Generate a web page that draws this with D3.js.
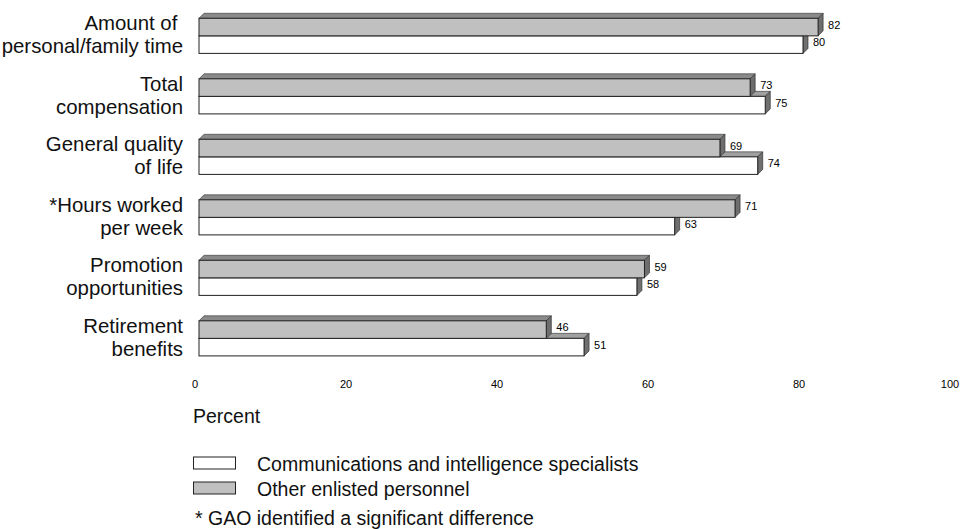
<!DOCTYPE html>
<html>
<head>
<meta charset="utf-8">
<script src="https://cdn.jsdelivr.net/npm/d3@7"></script>
<style>
  html, body { margin: 0; padding: 0; background: #fff; }
  svg { display: block; font-family: "Liberation Sans", Arial, Helvetica, sans-serif; }
</style>
</head>
<body>
<svg id="chart" width="963" height="529"></svg>
<script>
const categories = [
  ["Amount of\u00A0", "personal/family time"],
  ["Total", "compensation"],
  ["General quality", "of life"],
  ["*Hours worked", "per week"],
  ["Promotion", "opportunities"],
  ["Retirement", "benefits"]
];
const otherEnlisted = [82, 73, 69, 71, 59, 46];
const commIntel = [80, 75, 74, 63, 58, 51];
const tickValues = [0, 20, 40, 60, 80, 100];
const seriesNames = ["Communications and intelligence specialists", "Other enlisted personnel"];
const axisTitle = "Percent";
const footnote = "* GAO identified a significant difference";

const svg = d3.select("#chart");
const catKeys = categories.map((c, i) => i);

const x = d3.scaleLinear().domain([0, 100]).range([199, 954]);
const y = d3.scaleBand().domain(catKeys).range([5.6, 368.6]).paddingInner(0.42).paddingOuter(0.21);
const ySub = d3.scaleBand().domain(["other", "comm"]).range([0, y.bandwidth()]);

const depth = 5;
const styles = {
  other: { front: "#c0c0c0", top: "#8a8a8a", side: "#6e6e6e" },
  comm:  { front: "#ffffff", top: "#a0a0a0", side: "#707070" }
};

function drawBar(g, key, v, i) {
  const s = styles[key];
  const x0 = x(0), x1 = x(v);
  const t = y(i) + ySub(key), b = t + ySub.bandwidth();
  const grp = g.append("g");
  grp.append("path")
    .attr("d", `M${x0},${t} L${x0 + depth},${t - depth} L${x1 + depth},${t - depth} L${x1},${t} Z`)
    .attr("fill", s.top).attr("stroke", "#444").attr("stroke-width", 0.7).attr("stroke-linejoin", "round");
  grp.append("path")
    .attr("d", `M${x1},${t} L${x1 + depth},${t - depth} L${x1 + depth},${b - depth} L${x1},${b} Z`)
    .attr("fill", s.side).attr("stroke", "#333").attr("stroke-width", 0.7).attr("stroke-linejoin", "round");
  grp.append("rect")
    .attr("x", x0).attr("y", t).attr("width", x1 - x0).attr("height", b - t)
    .attr("fill", s.front).attr("stroke", "#222").attr("stroke-width", 1);
  g.append("text")
    .attr("x", x1 + 10).attr("y", (t + b) / 2 + 1.5)
    .attr("font-size", 11).attr("fill", "#000")
    .text(v);
}

const barsG = svg.append("g");
catKeys.forEach(i => {
  drawBar(barsG, "comm", commIntel[i], i);
  drawBar(barsG, "other", otherEnlisted[i], i);
});

const labG = svg.append("g");
catKeys.forEach(i => {
  const mid = y(i) + y.bandwidth() / 2;
  const t = labG.append("text").attr("text-anchor", "end").attr("font-size", 20.4).attr("fill", "#111")
    .style("white-space", "pre");
  t.append("tspan").attr("x", 183).attr("y", mid - 5.5).text(categories[i][0]);
  t.append("tspan").attr("x", 183).attr("y", mid + 17.5).text(categories[i][1]);
});

const axisG = svg.append("g").attr("transform", "translate(-4.5,388)");
axisG.call(d3.axisBottom(x).tickValues(tickValues).tickSize(0).tickPadding(0).tickFormat(d3.format("d")));
axisG.select(".domain").remove();
axisG.selectAll("text").attr("font-size", 11).attr("fill", "#000")
  .attr("dy", 0).attr("y", 0)
  .style("font-family", '"Liberation Sans", Arial, sans-serif');

svg.append("text").attr("x", 193).attr("y", 422.5).attr("font-size", 19.5).attr("fill", "#111").text(axisTitle);

const leg = svg.append("g");
const legendRows = [
  { key: "comm", label: seriesNames[0], y: 457 },
  { key: "other", label: seriesNames[1], y: 482 }
];
legendRows.forEach(r => {
  leg.append("rect").attr("x", 193.5).attr("y", r.y).attr("width", 42).attr("height", 12)
    .attr("fill", styles[r.key].front).attr("stroke", "#222").attr("stroke-width", 1);
  leg.append("text").attr("x", 257).attr("y", r.y + 13.5).attr("font-size", 19.5).attr("fill", "#111").text(r.label);
});
svg.append("text").attr("x", 195).attr("y", 525).attr("font-size", 19.5).attr("fill", "#111").text(footnote);
</script>
</body>
</html>
